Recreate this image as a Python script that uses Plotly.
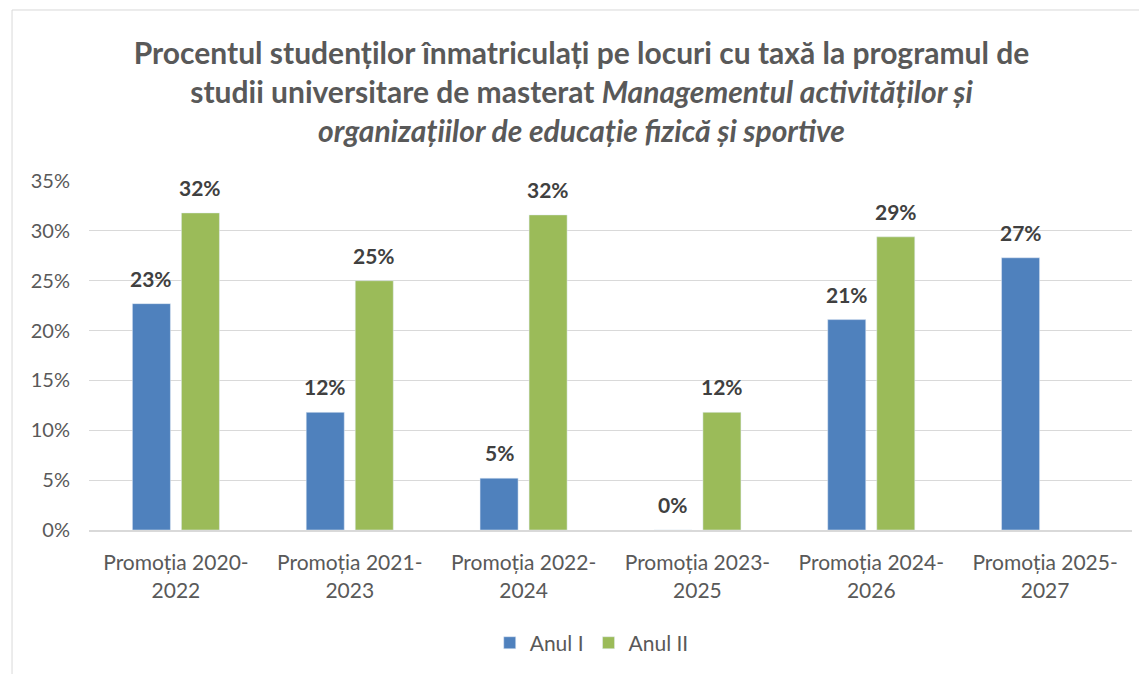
import plotly.graph_objects as go

categories = ["Promoția 2020-<br>2022", "Promoția 2021-<br>2023", "Promoția 2022-<br>2024",
              "Promoția 2023-<br>2025", "Promoția 2024-<br>2026", "Promoția 2025-<br>2027"]
anul_i = [22.7, 11.8, 5.2, 0.0, 21.1, 27.3]
anul_ii = [31.8, 25.0, 31.6, 11.8, 29.4, None]
tick_vals = [0, 5, 10, 15, 20, 25, 30, 35]
tick_text = ["0%", "5%", "10%", "15%", "20%", "25%", "30%", "35%"]

FONT = "Lato"
W, H = 1147, 674
ML, MR, MT, MB = 81, 23, 173, 152
BARGAP, GROUPGAP = 0.436, 0.224

fig = go.Figure()
fig.add_trace(go.Bar(name="Anul I", x=categories, y=anul_i, marker_color="#4F81BD"))
fig.add_trace(go.Bar(name="Anul II", x=categories, y=anul_ii, marker_color="#9BBB59"))

# data labels placed above each bar, shifted to the bar's slot within its group
plot_w = W - ML - MR
slot = plot_w / len(categories) * (1 - BARGAP) / 2
annotations = []
for series, shift in ((anul_i, -slot / 2), (anul_ii, slot / 2)):
    for cat, v in zip(categories, series):
        if v is None:
            continue
        annotations.append(dict(
            x=cat, y=v, xref="x", yref="y", text=f"<b>{v:.0f}%</b>", showarrow=False,
            xanchor="center", yanchor="bottom", xshift=shift, yshift=11,
            font=dict(family=FONT, size=21, color="#404040")))

fig.update_layout(
    width=W, height=H,
    paper_bgcolor="white", plot_bgcolor="white",
    margin=dict(l=ML, r=MR, t=MT, b=MB),
    barmode="group", bargap=BARGAP, bargroupgap=GROUPGAP,
    font=dict(family=FONT, color="#595959"),
    title=dict(
        text="<b>Procentul studenților înmatriculați pe locuri cu taxă la programul de<br>"
             "studii universitare de masterat <i>Managementul activităților și</i><br>"
             "<i>organizațiilor de educație fizică și sportive</i></b>",
        x=0.5, xanchor="center", y=0.917, yanchor="top",
        font=dict(family=FONT, size=30, color="#595959"),
    ),
    legend=dict(orientation="h", x=0.482, xanchor="center", y=-0.324, yanchor="middle",
                itemwidth=30, font=dict(family=FONT, size=21, color="#595959")),
    yaxis=dict(range=[0, 35], tickvals=tick_vals, ticktext=tick_text,
               showgrid=True, gridcolor="#D9D9D9", gridwidth=1, zeroline=False,
               tickfont=dict(family=FONT, size=20, color="#595959"),
               ticks="", showline=False, ticklabelstandoff=18),
    xaxis=dict(tickfont=dict(family=FONT, size=21, color="#595959"), showline=True,
               linecolor="#D9D9D9", linewidth=2, ticks="", ticklabelstandoff=13),
    annotations=annotations,
    shapes=[dict(type="rect", xref="paper", yref="paper", x0=-0.0738, x1=1.1, y0=-0.6, y1=1.49,
                 line=dict(color="#D9D9D9", width=1))],
)

fig.write_html("out.html")
